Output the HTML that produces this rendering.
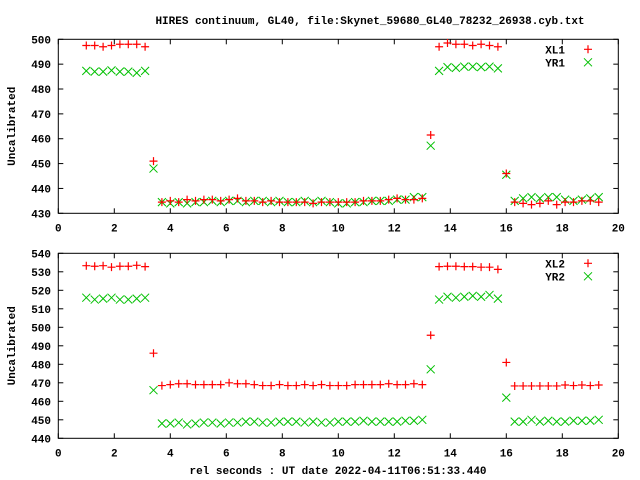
<!DOCTYPE html>
<html><head><meta charset="utf-8"><style>
html,body{margin:0;padding:0;background:#fff;}
svg{display:block;font-family:"Liberation Mono",monospace;font-weight:bold;font-size:11px;}
</style></head><body>
<svg id="chart" width="640" height="480" viewBox="0 0 640 480" xmlns="http://www.w3.org/2000/svg">
<text x="370" y="24" text-anchor="middle">HIRES continuum, GL40, file:Skynet_59680_GL40_78232_26938.cyb.txt</text>
<text x="338" y="474" text-anchor="middle">rel seconds : UT date 2022-04-11T06:51:33.440</text>
</svg>
<script>
const xVals=[1.0,1.3,1.6,1.9,2.2,2.5,2.8,3.1,3.4,3.7,4.0,4.3,4.6,4.9,5.2,5.5,5.8,6.1,6.4,6.7,7.0,7.3,7.6,7.9,8.2,8.5,8.8,9.1,9.4,9.7,10.0,10.3,10.6,10.9,11.2,11.5,11.8,12.1,12.4,12.7,13.0,13.3,13.6,13.9,14.2,14.5,14.8,15.1,15.4,15.7,16.0,16.3,16.6,16.9,17.2,17.5,17.8,18.1,18.4,18.7,19.0,19.3];
const xl1=[497.5,497.5,497,497.5,498,498,498,497,451,
434.5,435,434.5,435.5,435,435.5,435.5,435,435.5,436,435,435,434.5,435,434.5,434.5,434.5,434.5,434,434.5,434.5,434.5,434.5,434.5,435,435,435,435.5,436,435.5,435.5,436,
461.5,497,498.5,498,498,497.5,498,497.5,497,446,
434.5,434,433.5,434,435,433.5,434.5,434.5,435,435,434.5];
const yr1=[487.3,487,487,487.5,487,487,486.5,487.3,448,
434.5,434,434.5,434,434.5,434.5,435,434.5,435,435,434.5,435,435,434.5,435,434.5,434.5,435,434.5,435,434.5,434,434,434.5,434.5,435,435,435,435.5,435.5,436.5,436.5,
457.2,487.3,488.8,488.5,489,489,488.8,489,488.3,445.5,
435,436,436.5,436,436.5,436.5,435.5,435,435.5,436,436.5];
const xl2=[533.3,533,533.3,532.5,533,533,533.5,532.8,486,
468.5,469,469.5,469.5,469,469,469,469,470,469.5,469.5,469,468.5,468.5,469,468.5,468.5,469,468.5,469,468.5,468.5,468.5,469,469,469,469,469.5,469,469,469.5,469,
495.7,532.8,533,533,532.8,532.8,532.5,532.5,531.3,481,
468.3,468.3,468.3,468.3,468.3,468.3,468.8,468.5,468.8,468.5,468.8];
const yr2=[516,515,515.5,516,515,515,515.5,516,466,
448,448,448.5,447.5,448,448.5,448.5,448,448.5,448.5,449,449,448.5,448.5,449,449,449,448.5,449,448.5,448.5,449,449,449,449.5,449,449,449,449,449.5,449.5,450,
477.3,515,516.5,516,516.5,517,516.5,517.5,515.5,462,
449,449,450,449,449.5,449,449,449.5,449.5,449.5,450];
const xTicks=[0,2,4,6,8,10,12,14,16,18,20];
const yTicksTop=[430,440,450,460,470,480,490,500];
const yTicksBot=[440,450,460,470,480,490,500,510,520,530,540];

const NS="http://www.w3.org/2000/svg";
const svg=document.getElementById('chart');
function mk(tag,attrs,parent){const e=document.createElementNS(NS,tag);for(const k in attrs)e.setAttribute(k,attrs[k]);(parent||svg).appendChild(e);return e;}
const L=58.3,R=618.3;
function xs(v){return L+(v-0)/(20-0)*(R-L);}
function panel(name,top,bot,ymin,ymax,yTicks,s1,s2,n1,n2){
  const g=mk('g',{});
  
  
  const ys=v=>bot-(v-ymin)/(ymax-ymin)*(bot-top);
  const frame=mk('rect',{x:L,y:top,width:R-L,height:bot-top,fill:'none',stroke:'#000','stroke-width':1},g);
  
  
  xTicks.forEach(t=>{
    const x=xs(t);
    mk('line',{x1:x,y1:bot,x2:x,y2:bot-5,stroke:'#000'},g);
    mk('line',{x1:x,y1:top,x2:x,y2:top+5,stroke:'#000'},g);
    const tx=mk('text',{x:x,y:bot+18,'text-anchor':'middle'},g);
    
    
    tx.textContent=t;
  });
  yTicks.forEach(t=>{
    const y=ys(t);
    mk('line',{x1:L,y1:y,x2:L+5,y2:y,stroke:'#000'},g);
    mk('line',{x1:R,y1:y,x2:R-5,y2:y,stroke:'#000'},g);
    const ty=mk('text',{x:51,y:y+4,'text-anchor':'end'},g);
    
    
    ty.textContent=t;
  });
  const yt=mk('text',{x:0,y:0,'text-anchor':'middle',transform:`translate(15,${(top+bot)/2}) rotate(-90)`},g);
  
  
  yt.textContent='Uncalibrated';
  function plus(x,y,par){const p=mk('path',{d:`M${x-4},${y}H${x+4}M${x},${y-4}V${y+4}`,stroke:'#ff0000','stroke-width':1.2,fill:'none'},par);return p;}
  function cross(x,y,par){const p=mk('path',{d:`M${x-4},${y-4}L${x+4},${y+4}M${x-4},${y+4}L${x+4},${y-4}`,stroke:'#00c000','stroke-width':1,fill:'none'},par);return p;}
  const g2=mk('g',{},g);
  
  
  s2.forEach((v,i)=>{const p=cross(xs(xVals[i]),ys(v),g2);
    
    });
  const g1=mk('g',{},g);
  
  
  s1.forEach((v,i)=>{const p=plus(xs(xVals[i]),ys(v),g1);
    
    });
  const lg=mk('g',{},g);
  
  
  const t1=mk('text',{x:565,y:top+14,'text-anchor':'end'},lg);
  
  
  t1.textContent=n1;
  plus(588,top+10,lg);
  const t2=mk('text',{x:565,y:top+27,'text-anchor':'end'},lg);
  
  
  t2.textContent=n2;
  cross(588,top+23,lg);
}
panel('top-panel',39.3,213.3,430,500,yTicksTop,xl1,yr1,'XL1','YR1');
panel('bottom-panel',253.3,438.3,440,540,yTicksBot,xl2,yr2,'XL2','YR2');
</script>
</body></html>
